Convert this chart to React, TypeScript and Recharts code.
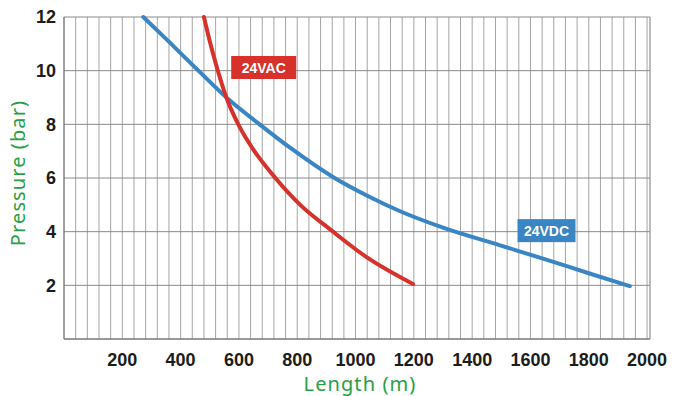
import React from "react";
import { LineChart, Line, XAxis, YAxis, CartesianGrid, ReferenceDot } from "recharts";

// 24VAC curve (length in m, pressure in bar)
const acLength = [480, 500, 525, 557, 600, 650, 725, 813, 917, 1042, 1197];
const acPressure = [12, 11.1, 10.1, 9.0, 7.95, 7.05, 6, 4.97, 4.05, 3.02, 2.05];

// 24VDC curve
const dcLength = [272, 358, 461, 557, 671, 779, 928, 1042, 1149, 1300, 1493, 1665, 1800, 1941];
const dcPressure = [12, 11.1, 10, 9.0, 8, 7.1, 6, 5.33, 4.78, 4.15, 3.5, 2.92, 2.45, 1.97];

const xLabelTicks = [200, 400, 600, 800, 1000, 1200, 1400, 1600, 1800, 2000];
const yTicks = [0, 2, 4, 6, 8, 10, 12];
// vertical grid every 40 m
const gridTicks = Array.from({ length: 51 }, (_, i) => i * 40);

const acData = acLength.map((m, i) => ({ m, p: acPressure[i] }));
const dcData = dcLength.map((m, i) => ({ m, p: dcPressure[i] }));

const RED = "#d6312b";
const BLUE = "#3a86c4";
const GREEN = "#27a045";

const tickStyle = { fontFamily: "Liberation Sans", fontSize: 18, fill: "#1c1c1c", fontWeight: 600 };

const Tag = (text: string, color: string, w: number) => (props: any) => {
  const { cx, cy } = props;
  return (
    <g>
      <rect x={cx - w / 2} y={cy - 12} width={w} height={23} fill={color} />
      <text x={cx} y={cy + 5} textAnchor="middle" fill="#fff" fontFamily="Liberation Sans" fontWeight="bold" fontSize={14}>
        {text}
      </text>
    </g>
  );
};

export default function App() {
  return (
    <div style={{ position: "absolute", left: 0, top: 0, background: "#fff" }}>
      <LineChart width={676} height={396} margin={{ top: 17, right: 0, bottom: 0, left: 0 }}>
        <CartesianGrid horizontal={false} stroke="#a5a5a5" />
        <CartesianGrid vertical={false} stroke="#8a8a8a" />
        <XAxis
          dataKey="m"
          type="number"
          domain={[0, 2010]}
          ticks={gridTicks}
          interval={0}
          allowDataOverflow
          height={57}
          tickLine={false}
          tickMargin={8}
          stroke="#6e6e6e"
          tick={tickStyle}
          tickFormatter={(v) => (xLabelTicks.includes(v) ? String(v) : "")}
          label={() => (
            <text x={360} y={391} textAnchor="middle" fill={GREEN} fontFamily="Noto Sans" fontSize={20} letterSpacing={1.1}>
              Length (m)
            </text>
          )}
        />
        <YAxis
          type="number"
          domain={[0, 12]}
          ticks={yTicks}
          interval={0}
          width={64}
          tickLine={false}
          stroke="#6e6e6e"
          tick={tickStyle}
          tickFormatter={(v) => (v === 0 ? "" : String(v))}
          label={() => (
            <text
              x={17}
              y={173}
              transform="rotate(-90 17 173)"
              textAnchor="middle"
              dominantBaseline="central"
              fill={GREEN}
              fontFamily="Noto Sans"
              fontSize={20}
              letterSpacing={1.1}
            >
              Pressure (bar)
            </text>
          )}
        />
        <YAxis yAxisId="r" orientation="right" width={26} domain={[0, 12]} tick={false} tickLine={false} stroke="#a5a5a5" />
        <Line data={dcData} dataKey="p" type="monotone" dot={false} stroke={BLUE} strokeWidth={4} strokeLinecap="round" isAnimationActive={false} />
        <Line data={acData} dataKey="p" type="monotone" dot={false} stroke={RED} strokeWidth={4} strokeLinecap="round" isAnimationActive={false} />
        <ReferenceDot x={685} y={10.1} r={0} shape={Tag("24VAC", RED, 65)} />
        <ReferenceDot x={1655} y={4.02} r={0} shape={Tag("24VDC", BLUE, 58)} />
      </LineChart>
    </div>
  );
}
